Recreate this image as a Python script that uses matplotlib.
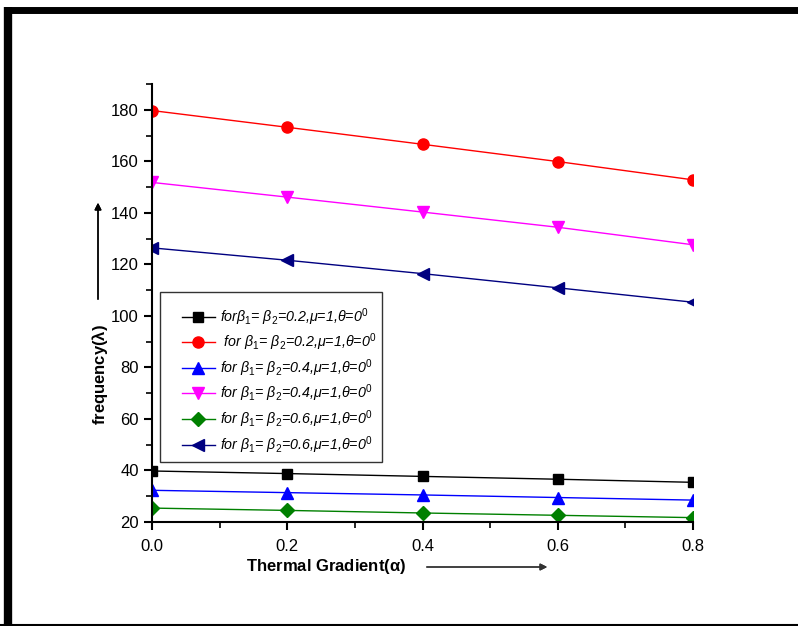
import matplotlib.pyplot as plt
from matplotlib.lines import Line2D
from matplotlib.patches import Rectangle

plt.rcParams['font.family'] = ['Liberation Sans', 'DejaVu Sans']
plt.rcParams['mathtext.fontset'] = 'custom'
plt.rcParams['mathtext.rm'] = 'Liberation Sans'
plt.rcParams['mathtext.it'] = 'Liberation Sans:italic'
plt.rcParams['mathtext.bf'] = 'Liberation Sans:bold'

# thermal gradient values
alpha = [0.0, 0.2, 0.4, 0.6, 0.8]

freq_b02_black = [39.8, 38.8, 37.7, 36.6, 35.4]
freq_b02_red = [179.7, 173.2, 166.6, 159.9, 152.8]
freq_b04_blue = [32.3, 31.4, 30.5, 29.5, 28.5]
freq_b04_magenta = [151.8, 146.1, 140.3, 134.4, 127.6]
freq_b06_green = [25.4, 24.5, 23.5, 22.6, 21.7]
freq_b06_navy = [126.4, 121.6, 116.4, 110.9, 105.3]

labels = [
    r'for$\beta_1$= $\beta_2$=0.2,$\mu$=1,$\theta$=0$^0$',
    r' for $\beta_1$= $\beta_2$=0.2,$\mu$=1,$\theta$=0$^0$',
    r'for $\beta_1$= $\beta_2$=0.4,$\mu$=1,$\theta$=0$^0$',
    r'for $\beta_1$= $\beta_2$=0.4,$\mu$=1,$\theta$=0$^0$',
    r'for $\beta_1$= $\beta_2$=0.6,$\mu$=1,$\theta$=0$^0$',
    r'for $\beta_1$= $\beta_2$=0.6,$\mu$=1,$\theta$=0$^0$',
]

series = [freq_b02_black, freq_b02_red, freq_b04_blue,
          freq_b04_magenta, freq_b06_green, freq_b06_navy]
colors = ['black', 'red', 'blue', '#FF00FF', '#008000', '#000080']
markers = ['s', 'o', '^', 'v', 'D', '<']
msizes = [7, 8, 8, 8, 7, 8]

fig = plt.figure(figsize=(7.98, 6.26), dpi=100)
ax = fig.add_axes([152 / 798, 1 - 522 / 626, (693 - 152) / 798, (522 - 84) / 626])

for vals, c, m, ms, lab in zip(series, colors, markers, msizes, labels):
    ax.plot(alpha, vals, color=c, marker=m, markersize=ms, linewidth=1, label=lab)

ax.set_xlim(0, 0.8)
ax.set_ylim(20, 190)
ax.set_xticks([0.0, 0.2, 0.4, 0.6, 0.8])
ax.set_xticks([0.1, 0.3, 0.5, 0.7], minor=True)
ax.set_yticks(range(20, 181, 20))
ax.set_yticks(range(30, 191, 20), minor=True)
ax.xaxis.set_major_formatter(plt.FormatStrFormatter('%.1f'))
ax.spines['top'].set_visible(False)
ax.spines['right'].set_visible(False)
ax.spines['left'].set_linewidth(1.5)
ax.spines['bottom'].set_linewidth(1.5)
ax.tick_params(axis='both', which='major', direction='out', length=6, width=1.5, labelsize=12)
ax.tick_params(axis='both', which='minor', direction='out', length=4, width=1.2)
ax.tick_params(axis='x', pad=6)

# legend box drawn separately (uneven padding in the original)
ax.add_patch(Rectangle((160 / 798, 1 - 462 / 626), 222 / 798, 170 / 626,
                       transform=fig.transFigure, facecolor='white', clip_on=False,
                       edgecolor='#333333', linewidth=1, zorder=3))
leg = ax.legend(loc='upper left', bbox_to_anchor=(182 / 798, 1 - 306 / 626),
                bbox_transform=fig.transFigure, borderaxespad=0, frameon=False,
                prop={'style': 'italic', 'size': 10.3}, borderpad=0,
                handlelength=2.3, labelspacing=0.28, handletextpad=0.35)
leg.set_zorder(4)

# axis titles with arrows
fig.text(100 / 798, 1 - 375 / 626, r'frequency($\mathbf{\lambda}$)', rotation=90,
         ha='center', va='center', fontsize=12, fontweight='bold')
fig.add_artist(plt.annotate('', xy=(98 / 798, 1 - 200 / 626), xytext=(98 / 798, 1 - 302 / 626),
                            xycoords='figure fraction', textcoords='figure fraction',
                            arrowprops=dict(arrowstyle='-|>', color='black', lw=1,
                                            mutation_scale=10)))
fig.text(326 / 798, 1 - 567 / 626, r'Thermal Gradient($\mathbf{\alpha}$)',
         ha='center', va='center', fontsize=12, fontweight='bold')
fig.add_artist(plt.annotate('', xy=(550 / 798, 1 - 567 / 626), xytext=(424 / 798, 1 - 567 / 626),
                            xycoords='figure fraction', textcoords='figure fraction',
                            arrowprops=dict(arrowstyle='-|>', color='#333333', lw=1,
                                            mutation_scale=10)))

# page frame
fig.add_artist(Line2D([8 / 798, 8 / 798], [0, 1 - 7 / 626], transform=fig.transFigure,
                      color='black', linewidth=6, solid_capstyle='butt'))
fig.add_artist(Line2D([5 / 798, 1], [1 - 10 / 626, 1 - 10 / 626], transform=fig.transFigure,
                      color='black', linewidth=5, solid_capstyle='butt'))
fig.add_artist(Line2D([0, 1], [1 / 626, 1 / 626], transform=fig.transFigure,
                      color='black', linewidth=1.5))

fig.savefig('out.png', dpi=100)
